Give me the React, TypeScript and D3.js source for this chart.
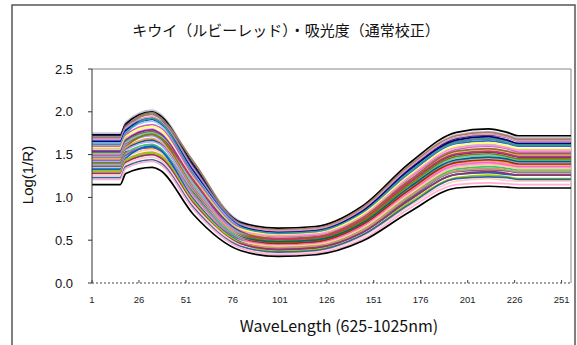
import React from 'react';
import * as d3 from 'd3';

const keyIdx = [1, 16, 19, 33, 37, 55, 80, 100, 120, 145, 170, 195, 212, 222, 228, 256];

// Log(1/R) values per spectrum, at the key indices above
const spectra: number[][] = [
  [1.75, 1.75, 1.88, 2.02, 1.98, 1.40, 0.72, 0.63, 0.65, 0.88, 1.38, 1.73, 1.77, 1.73, 1.70, 1.70],
  [1.73, 1.73, 1.86, 2.00, 1.96, 1.38, 0.71, 0.64, 0.66, 0.90, 1.40, 1.76, 1.80, 1.76, 1.72, 1.72],
  [1.72, 1.72, 1.85, 1.93, 1.90, 1.37, 0.70, 0.61, 0.63, 0.86, 1.34, 1.69, 1.73, 1.70, 1.66, 1.66],
  [1.70, 1.70, 1.83, 1.97, 1.93, 1.42, 0.69, 0.62, 0.64, 0.88, 1.37, 1.72, 1.76, 1.72, 1.68, 1.68],
  [1.69, 1.69, 1.82, 1.99, 1.94, 1.34, 0.69, 0.59, 0.61, 0.83, 1.31, 1.65, 1.69, 1.66, 1.62, 1.62],
  [1.68, 1.68, 1.81, 1.94, 1.90, 1.33, 0.68, 0.61, 0.63, 0.86, 1.35, 1.70, 1.74, 1.70, 1.66, 1.66],
  [1.66, 1.66, 1.79, 1.92, 1.88, 1.31, 0.67, 0.57, 0.59, 0.82, 1.28, 1.63, 1.66, 1.63, 1.60, 1.60],
  [1.65, 1.65, 1.78, 1.91, 1.87, 1.30, 0.66, 0.59, 0.61, 0.84, 1.32, 1.67, 1.71, 1.67, 1.63, 1.63],
  [1.63, 1.63, 1.76, 1.89, 1.85, 1.28, 0.65, 0.55, 0.57, 0.79, 1.25, 1.59, 1.62, 1.59, 1.56, 1.56],
  [1.62, 1.62, 1.75, 1.92, 1.88, 1.27, 0.65, 0.58, 0.60, 0.82, 1.30, 1.64, 1.68, 1.64, 1.61, 1.61],
  [1.60, 1.60, 1.73, 1.85, 1.82, 1.25, 0.64, 0.54, 0.56, 0.77, 1.23, 1.56, 1.60, 1.57, 1.53, 1.53],
  [1.58, 1.58, 1.71, 1.83, 1.80, 1.15, 0.63, 0.56, 0.58, 0.80, 1.26, 1.60, 1.64, 1.60, 1.57, 1.57],
  [1.57, 1.57, 1.70, 1.76, 1.73, 1.22, 0.62, 0.52, 0.54, 0.75, 1.19, 1.52, 1.56, 1.53, 1.50, 1.50],
  [1.55, 1.55, 1.68, 1.80, 1.76, 1.20, 0.61, 0.55, 0.57, 0.78, 1.24, 1.58, 1.61, 1.58, 1.55, 1.55],
  [1.54, 1.54, 1.67, 1.79, 1.75, 1.19, 0.60, 0.50, 0.52, 0.73, 1.17, 1.50, 1.53, 1.50, 1.47, 1.47],
  [1.52, 1.52, 1.65, 1.77, 1.73, 1.17, 0.59, 0.52, 0.54, 0.76, 1.20, 1.54, 1.57, 1.54, 1.51, 1.51],
  [1.51, 1.51, 1.64, 1.75, 1.72, 1.16, 0.58, 0.49, 0.51, 0.71, 1.14, 1.46, 1.49, 1.47, 1.44, 1.44],
  [1.49, 1.49, 1.62, 1.73, 1.70, 1.20, 0.57, 0.51, 0.53, 0.74, 1.18, 1.51, 1.54, 1.51, 1.48, 1.48],
  [1.48, 1.48, 1.61, 1.72, 1.68, 1.13, 0.57, 0.47, 0.49, 0.69, 1.11, 1.43, 1.46, 1.44, 1.41, 1.41],
  [1.46, 1.46, 1.59, 1.74, 1.70, 1.11, 0.56, 0.49, 0.51, 0.72, 1.15, 1.48, 1.51, 1.48, 1.45, 1.45],
  [1.45, 1.45, 1.58, 1.69, 1.65, 1.10, 0.55, 0.45, 0.47, 0.67, 1.08, 1.40, 1.43, 1.40, 1.38, 1.38],
  [1.43, 1.43, 1.56, 1.67, 1.63, 1.08, 0.54, 0.48, 0.50, 0.70, 1.12, 1.44, 1.47, 1.45, 1.42, 1.42],
  [1.42, 1.42, 1.55, 1.65, 1.62, 1.07, 0.53, 0.44, 0.46, 0.65, 1.05, 1.36, 1.39, 1.37, 1.35, 1.35],
  [1.40, 1.40, 1.53, 1.58, 1.55, 1.05, 0.52, 0.46, 0.48, 0.68, 1.09, 1.41, 1.44, 1.42, 1.39, 1.39],
  [1.39, 1.39, 1.52, 1.62, 1.58, 1.04, 0.52, 0.42, 0.44, 0.63, 1.02, 1.33, 1.36, 1.34, 1.32, 1.32],
  [1.37, 1.37, 1.50, 1.60, 1.56, 1.02, 0.51, 0.44, 0.46, 0.66, 1.06, 1.38, 1.41, 1.38, 1.36, 1.36],
  [1.36, 1.36, 1.49, 1.59, 1.55, 0.94, 0.50, 0.40, 0.42, 0.61, 0.99, 1.30, 1.32, 1.31, 1.29, 1.29],
  [1.34, 1.34, 1.47, 1.56, 1.53, 0.99, 0.49, 0.43, 0.45, 0.64, 1.04, 1.35, 1.38, 1.36, 1.34, 1.34],
  [1.33, 1.33, 1.46, 1.60, 1.56, 0.98, 0.48, 0.39, 0.41, 0.59, 0.97, 1.27, 1.29, 1.27, 1.26, 1.26],
  [1.31, 1.31, 1.44, 1.53, 1.50, 0.96, 0.47, 0.41, 0.43, 0.61, 1.01, 1.31, 1.34, 1.32, 1.30, 1.30],
  [1.30, 1.30, 1.43, 1.52, 1.49, 0.95, 0.47, 0.37, 0.39, 0.56, 0.94, 1.23, 1.26, 1.24, 1.22, 1.22],
  [1.28, 1.28, 1.41, 1.50, 1.47, 0.93, 0.46, 0.39, 0.41, 0.59, 0.97, 1.27, 1.30, 1.28, 1.26, 1.26],
  [1.26, 1.26, 1.39, 1.47, 1.44, 0.91, 0.44, 0.35, 0.37, 0.54, 0.90, 1.19, 1.22, 1.20, 1.19, 1.19],
  [1.23, 1.23, 1.36, 1.44, 1.41, 0.88, 0.43, 0.36, 0.38, 0.56, 0.92, 1.22, 1.24, 1.23, 1.21, 1.21],
  [1.21, 1.21, 1.34, 1.42, 1.39, 0.86, 0.41, 0.33, 0.35, 0.51, 0.87, 1.15, 1.17, 1.16, 1.15, 1.15],
  [1.15, 1.15, 1.28, 1.35, 1.32, 0.80, 0.38, 0.31, 0.33, 0.49, 0.83, 1.11, 1.13, 1.12, 1.11, 1.11],
];

const palette = [
  '#c8c0d8', '#000000', '#1f1f6e', '#a08060', '#8c7c6c', '#e098b8', '#3366cc', '#000080',
  '#99ccff', '#339999', '#cc66cc', '#ffff66', '#c8e060', '#ff99cc', '#663399', '#996633',
  '#66cccc', '#cc3366', '#9999ff', '#808000', '#ff9966', '#006666', '#cc99ff', '#993300',
  '#33cc66', '#ff66cc', '#666699', '#ffcc99', '#0066cc', '#cc9966', '#99cc00', '#993366',
  '#ffcccc', '#336699', '#ffb0d0', '#000000',
];

const xTicks = [1, 26, 51, 76, 101, 126, 151, 176, 201, 226, 251];
const yTicks = [0, 0.5, 1.0, 1.5, 2.0, 2.5];

const title = 'キウイ（ルビーレッド）・吸光度（通常校正）';
const xTitle = 'WaveLength (625-1025nm)';
const yTitle = 'Log(1/R)';

const W = 577, H = 345;
const plot = { left: 92, right: 571, top: 69, bottom: 283 };

export default function App() {
  const x = d3.scaleLinear().domain([1, 256]).range([plot.left, plot.right]);
  const y = d3.scaleLinear().domain([0, 2.5]).range([plot.bottom, plot.top]);
  const line = d3.line<number>()
    .x((_, i) => x(keyIdx[i]))
    .y(d => y(d))
    .curve(d3.curveMonotoneX);
  const jp = '"Noto Sans CJK JP", sans-serif';
  const sans = '"Liberation Sans", Arial, sans-serif';

  return (
    <svg width={W} height={H} style={{ position: 'absolute', left: 0, top: 0, background: '#fff' }}>
      <rect x={12} y={5} width={563} height={360} fill="#fff" stroke="#555" strokeWidth={1.5} />
      <text x={286} y={36} textAnchor="middle" fontFamily={jp} fontSize={15} fill="#111">{title}</text>

      {/* plot area frame */}
      <path d={`M${plot.left},${plot.top}H${plot.right}V${plot.bottom}`} fill="none" stroke="#888" strokeWidth={1} />

      <g>
        {spectra.map((s, i) => (
          <path key={i} d={line(s) ?? ''} fill="none" stroke={palette[i % palette.length]} strokeWidth={1.7} strokeLinejoin="round" />
        ))}
      </g>

      {/* y axis */}
      <line x1={plot.left} x2={plot.left} y1={plot.top} y2={plot.bottom} stroke="#333" strokeWidth={1} />
      {yTicks.map(t => (
        <g key={t}>
          <line x1={plot.left - 4} x2={plot.left} y1={y(t)} y2={y(t)} stroke="#333" />
          <text x={73} y={y(t)} dy="0.35em" textAnchor="end" fontFamily={sans} fontSize={13} fill="#111">{t.toFixed(1)}</text>
        </g>
      ))}

      {/* x axis, dashed at zero */}
      <line x1={plot.left} x2={plot.right} y1={plot.bottom} y2={plot.bottom} stroke="#444" strokeWidth={1} strokeDasharray="2,2" />
      {xTicks.map(t => (
        <g key={t}>
          <line x1={x(t)} x2={x(t)} y1={plot.bottom} y2={plot.bottom - 3} stroke="#444" />
          <text x={x(t)} y={303} textAnchor="middle" fontFamily={sans} fontSize={9.5} fill="#222">{t}</text>
        </g>
      ))}

      <text x={339} y={332} textAnchor="middle" fontFamily={jp} fontSize={16} fill="#111">{xTitle}</text>
      <text transform={`translate(33,175) rotate(-90)`} textAnchor="middle" fontFamily={sans} fontSize={15} fill="#111">{yTitle}</text>
    </svg>
  );
}
